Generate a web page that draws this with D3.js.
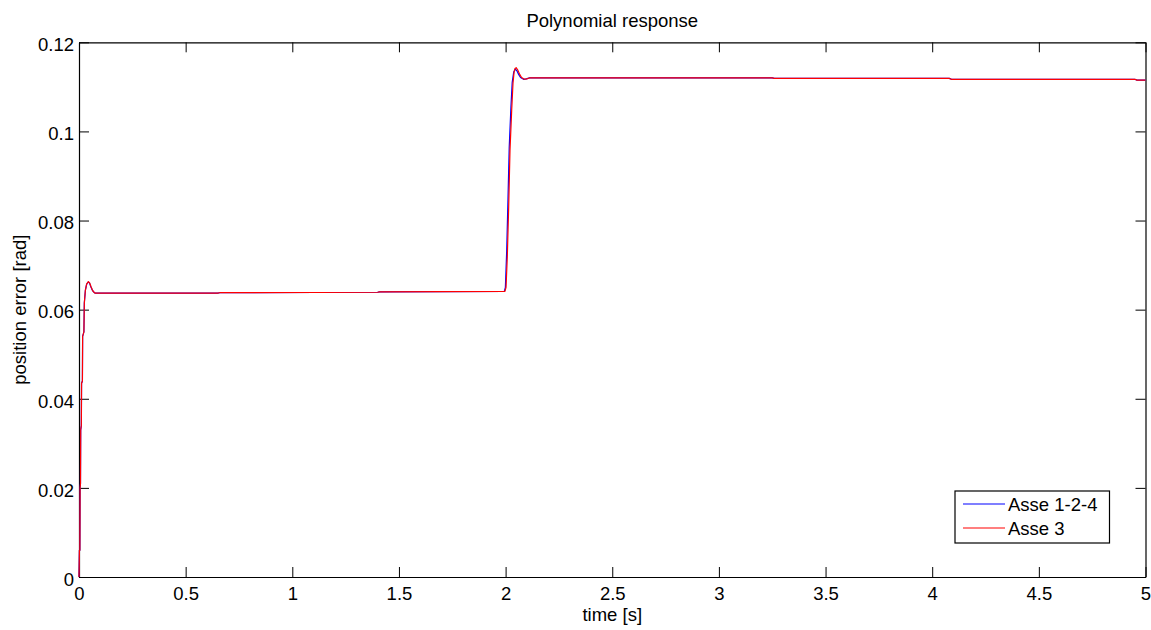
<!DOCTYPE html>
<html>
<head>
<meta charset="utf-8">
<script src="https://cdn.jsdelivr.net/npm/d3@7"></script>
<style>
  html, body { margin: 0; padding: 0; background: #fff; }
  svg text { font-family: "Liberation Sans", Arial, sans-serif; fill: #000; }
</style>
</head>
<body>
<svg id="chart" width="1151" height="630"></svg>
<script>
// Position error of the joints under a polynomial trajectory
const seriesNames = ["Asse 1-2-4", "Asse 3"];
const seriesColors = ["#0000ff", "#ff0000"];

// Asse 1-2-4
const timeA = [0, 0.002, 0.004, 0.005, 0.007, 0.008, 0.011, 0.012, 0.016, 0.017, 0.023, 0.025, 0.030, 0.036, 0.043,
  0.049, 0.055, 0.061, 0.068, 0.076, 0.085, 0.30, 0.65, 0.66, 1.40, 1.41, 1.994, 1.999, 2.005, 2.011, 2.017, 2.025,
  2.031, 2.038, 2.046, 2.053, 2.061, 2.070, 2.084, 2.097, 2.112, 2.124, 3.25, 3.26, 4.08, 4.09, 4.95, 4.96, 5.0];
const errorA = [0, 0.006, 0.006, 0.020, 0.021, 0.033, 0.034, 0.0435, 0.044, 0.054, 0.055, 0.0615, 0.0644, 0.0657, 0.0662,
  0.0660, 0.0652, 0.0645, 0.0640, 0.0637, 0.0637, 0.0637, 0.0637, 0.0638, 0.0639, 0.0640, 0.0641, 0.0650, 0.0730, 0.0845, 0.0965, 0.1055,
  0.1110, 0.1133, 0.1140, 0.1136, 0.1128, 0.1121, 0.1117, 0.1118, 0.1120, 0.1120, 0.1120, 0.1119, 0.1119, 0.1117, 0.1117, 0.1115, 0.1115];

// Asse 3
const timeB = [0, 0.002, 0.004, 0.005, 0.007, 0.008, 0.011, 0.012, 0.016, 0.017, 0.023, 0.025, 0.030, 0.036, 0.044,
  0.050, 0.056, 0.062, 0.068, 0.076, 0.085, 0.30, 0.65, 0.66, 1.40, 1.41, 1.997, 2.002, 2.008, 2.0145, 2.0206, 2.0286,
  2.0347, 2.040, 2.044, 2.050, 2.058, 2.066, 2.075, 2.088, 2.099, 2.112, 2.124, 3.25, 3.26, 4.08, 4.09, 4.95, 4.96, 5.0];
const errorB = [0, 0.006, 0.006, 0.020, 0.021, 0.033, 0.034, 0.0435, 0.044, 0.054, 0.055, 0.0615, 0.0644, 0.0658, 0.0663,
  0.0660, 0.0652, 0.0645, 0.0640, 0.0637, 0.0637, 0.0637, 0.0637, 0.0638, 0.0639, 0.0640, 0.0641, 0.0650, 0.0719, 0.0831, 0.0958, 0.1048,
  0.1108, 0.1134, 0.1141, 0.1143, 0.1137, 0.1128, 0.1121, 0.1117, 0.1118, 0.1120, 0.1120, 0.1120, 0.1119, 0.1119, 0.1117, 0.1117, 0.1115, 0.1115];

const xTicks = [0, 0.5, 1, 1.5, 2, 2.5, 3, 3.5, 4, 4.5, 5];
const yTicks = [0, 0.02, 0.04, 0.06, 0.08, 0.1, 0.12];

const svg = d3.select("#chart");
const plot = { left: 79, right: 1145.5, top: 42.3, bottom: 577 };
const fontSize = 18.5;
const tickLen = 10;

const x = d3.scaleLinear().domain([0, 5]).range([plot.left, plot.right]);
const y = d3.scaleLinear().domain([0, 0.12]).range([plot.bottom, plot.top]);

const fmt = d => String(+d.toFixed(4));

// axes frame with inward ticks on all four sides
const gBottom = svg.append("g").attr("transform", `translate(0,${plot.bottom})`)
  .call(d3.axisBottom(x).tickValues(xTicks).tickFormat(fmt).tickSizeInner(-tickLen).tickSizeOuter(0).tickPadding(9.5));
const gTop = svg.append("g").attr("transform", `translate(0,${plot.top})`)
  .call(d3.axisTop(x).tickValues(xTicks).tickFormat("").tickSizeInner(-tickLen).tickSizeOuter(0));
const gLeft = svg.append("g").attr("transform", `translate(${plot.left},0)`)
  .call(d3.axisLeft(y).tickValues(yTicks).tickFormat(fmt).tickSizeInner(-tickLen).tickSizeOuter(0).tickPadding(5));
const gRight = svg.append("g").attr("transform", `translate(${plot.right},0)`)
  .call(d3.axisRight(y).tickValues(yTicks).tickFormat("").tickSizeInner(-tickLen).tickSizeOuter(0));

[gBottom, gTop, gLeft, gRight].forEach(g => {
  g.select(".domain").attr("stroke", "#000").attr("stroke-width", 1.2);
  g.selectAll(".tick line").attr("stroke", "#000").attr("stroke-width", 1);
  g.selectAll(".tick text").attr("font-size", fontSize).attr("font-family", "Liberation Sans, Arial, sans-serif").attr("fill", "#000");
});
gLeft.selectAll(".tick text").attr("dy", "0.45em");
gBottom.selectAll(".tick text").attr("dy", "0.71em");

// data lines
const line = d3.line().x(d => x(d[0])).y(d => y(d[1]));
const series = [
  d3.zip(timeA, errorA),
  d3.zip(timeB, errorB)
];
series.forEach((data, i) => {
  svg.append("path")
    .datum(data)
    .attr("fill", "none")
    .attr("stroke", seriesColors[i])
    .attr("stroke-width", 1.2)
    .attr("stroke-linejoin", "round")
    .attr("d", line);
});

// titles
svg.append("text")
  .attr("x", (plot.left + plot.right) / 2).attr("y", 27)
  .attr("text-anchor", "middle").attr("font-size", fontSize)
  .text("Polynomial response");
svg.append("text")
  .attr("x", (plot.left + plot.right) / 2).attr("y", 621)
  .attr("text-anchor", "middle").attr("font-size", fontSize)
  .text("time [s]");
svg.append("text")
  .attr("transform", `translate(26,${(plot.top + plot.bottom) / 2}) rotate(-90)`)
  .attr("text-anchor", "middle").attr("font-size", fontSize)
  .text("position error [rad]");

// legend
const legend = { left: 955, right: 1109.5, top: 491, bottom: 543 };
svg.append("rect")
  .attr("x", legend.left).attr("y", legend.top)
  .attr("width", legend.right - legend.left).attr("height", legend.bottom - legend.top)
  .attr("fill", "#fff").attr("stroke", "#000").attr("stroke-width", 1.2);
const rowY = [504, 528];
seriesNames.forEach((name, i) => {
  svg.append("line")
    .attr("x1", 963).attr("x2", 1005).attr("y1", rowY[i]).attr("y2", rowY[i])
    .attr("stroke", seriesColors[i]).attr("stroke-width", 1.2);
  svg.append("text")
    .attr("x", 1008).attr("y", rowY[i]).attr("dy", "0.36em")
    .attr("font-size", fontSize)
    .text(name);
});
</script>
</body>
</html>
